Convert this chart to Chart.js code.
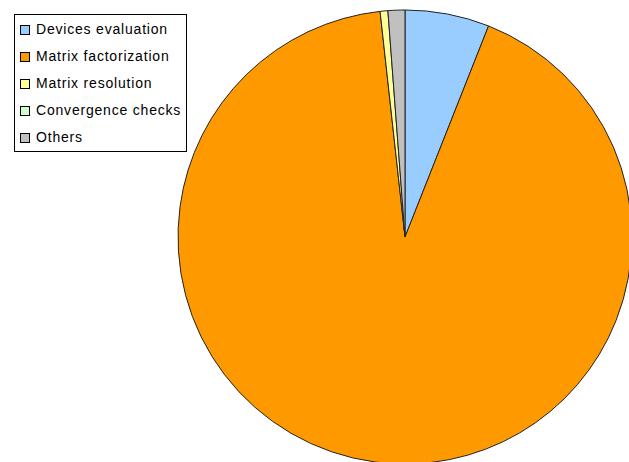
<!DOCTYPE html>
<html>
<head>
<meta charset="utf-8">
<script src="https://cdn.jsdelivr.net/npm/chart.js@4"></script>
<style>
  html, body { margin: 0; padding: 0; background: #fff; width: 629px; height: 462px; overflow: hidden; }
  #wrap { position: absolute; left: 177px; top: 9px; width: 456px; height: 456px; }
  #legend {
    position: absolute; left: 14px; top: 14px; width: 173px; height: 138px;
    border: 1px solid #000; background: #fff; box-sizing: border-box;
    font-family: "Liberation Sans", Arial, sans-serif; font-size: 14px; color: #000;
    padding-top: 1px; letter-spacing: 0.8px;
  }
  .item { height: 27px; display: flex; align-items: center; padding-left: 5px; }
  .item span.sw { width: 8px; height: 8px; border: 1px solid #000; margin-right: 6px; flex: none; }
  .item span.tx { line-height: 16px; white-space: nowrap; position: relative; top: -1px; }
</style>
</head>
<body>
<div id="wrap"><canvas id="c"></canvas></div>
<div id="legend"></div>
<script>
// Share of simulation time spent in each phase (%)
const categories = ["Devices evaluation", "Matrix factorization", "Matrix resolution", "Convergence checks", "Others"];
const shares = [6.0, 92.25, 0.55, 0.0, 1.2];
const colors = ["#99CCFF", "#FF9900", "#FFFF99", "#CCFFCC", "#C0C0C0"];

const legend = document.getElementById("legend");
categories.forEach((name, i) => {
  const row = document.createElement("div");
  row.className = "item";
  const sw = document.createElement("span");
  sw.className = "sw";
  sw.style.background = colors[i];
  const tx = document.createElement("span");
  tx.className = "tx";
  tx.textContent = name;
  row.appendChild(sw);
  row.appendChild(tx);
  legend.appendChild(row);
});

new Chart(document.getElementById("c"), {
  type: "pie",
  data: {
    labels: categories,
    datasets: [{
      data: shares,
      backgroundColor: colors,
      borderColor: "#222",
      borderWidth: 1
    }]
  },
  options: {
    responsive: true,
    maintainAspectRatio: false,
    animation: false,
    radius: 227,
    layout: { padding: 0 },
    plugins: { legend: { display: false }, tooltip: { enabled: false } }
  }
});
</script>
</body>
</html>
